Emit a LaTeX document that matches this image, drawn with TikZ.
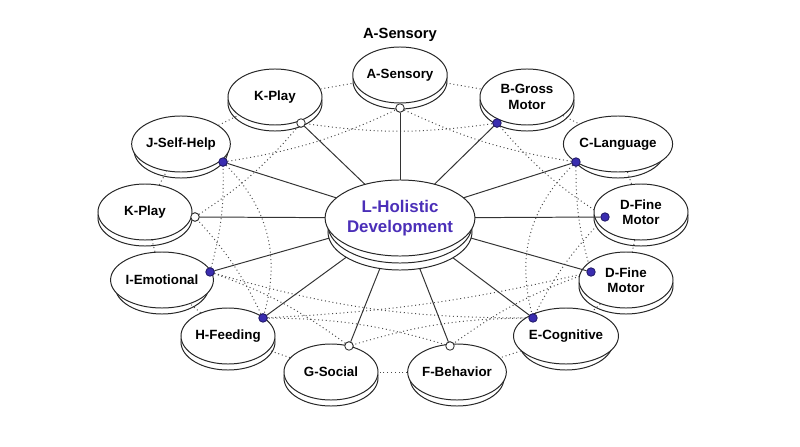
\documentclass[tikz,border=0pt]{standalone}
\usepackage{fontspec}
\setmainfont{Liberation Sans}
\usetikzlibrary{shapes.geometric}
\definecolor{violet}{HTML}{4B2FB8}
\definecolor{dotblue}{HTML}{3A2DB0}
\tikzset{
  base/.style={ellipse, draw=black!85, line width=0.7pt, fill=white, minimum width=2.35cm, minimum height=1.4cm, inner sep=0pt},
  disk/.style={base, font=\fontsize{9.5}{11}\selectfont\bfseries, align=center},
  hub/.style={disk, minimum width=3.6cm, minimum height=1.9cm, text=violet, font=\fontsize{12}{14}\selectfont\bfseries},
  spoke/.style={draw=black!80, line width=0.7pt},
  link/.style={draw=black!70, dotted, line width=0.7pt},
  pin/.style={circle, draw=black!80, line width=0.6pt, fill=white, inner sep=0pt, minimum size=6pt},
  bpin/.style={pin, fill=dotblue, draw=dotblue!60!black},
}
% a disc: base ellipse, then top ellipse with text
\newcommand{\disc}[4][disk]{%
  \node[#1, text opacity=0] at ([yshift=-0.15cm]#3) {};
  \node[#1] (#2) at (#3) {#4};}
\begin{document}
\begin{tikzpicture}[x=0.025cm, y=-0.025cm]
  \useasboundingbox (0,0) rectangle (800,446);
  \node[font=\fontsize{10.5}{12}\selectfont\bfseries] (title) at (400,35) {A-Sensory};

  % pins
  \node[pin]  (pA) at (400,108) {};
  \node[bpin] (pB) at (497,123) {};
  \node[bpin] (pC) at (576,162) {};
  \node[bpin] (pD) at (605,217) {};
  \node[bpin] (pDD) at (591,272) {};
  \node[bpin] (pE) at (533,318) {};
  \node[pin]  (pF) at (450,346) {};
  \node[pin]  (pG) at (349,346) {};
  \node[bpin] (pH) at (263,318) {};
  \node[bpin] (pI) at (210,272) {};
  \node[pin]  (pK) at (195,217) {};
  \node[bpin] (pJ) at (223,162) {};
  \node[pin]  (pKK) at (301,123) {};

  % dotted chords
  \foreach \a/\b in {pA/pC, pB/pD, pC/pDD, pD/pE, pDD/pF, pE/pG,
                     pF/pH, pG/pI, pH/pK, pI/pJ, pK/pKK, pJ/pA, pKK/pB}
    \path[link] (\a) to[bend right=8] (\b);
  \path[link] (pJ) to[bend left=30] (pH);
  \path[link] (pC) to[bend right=30] (pE);
  \path[link] (pI) to[bend right=8] (pE);
  \path[link] (pH) to[bend right=5] (pDD);

  % outer discs
  \disc{A}{400,75}{A-Sensory}
  \disc{B}{527,97}{B-Gross\\Motor}
  \disc{C}{618,144}{C-Language}
  \disc{D}{641,212}{D-Fine\\Motor}
  \disc{DD}{626,280}{D-Fine\\Motor}
  \disc{E}{566,336}{E-Cognitive}
  \disc{F}{457,372}{F-Behavior}
  \disc{G}{331,372}{G-Social}
  \disc{H}{228,336}{H-Feeding}
  \disc{I}{162,280}{I-Emotional}
  \disc{K}{145,212}{K-Play}
  \disc{J}{181,144}{J-Self-Help}
  \disc{KK}{275,97}{K-Play}

  % ring
  \foreach \a/\b in {A/B, B/C, C/D, D/DD, DD/E, E/F, F/G, G/H, H/I, I/K, K/J, J/KK, KK/A}
    \path[link] (\a) -- (\b);

  % spokes
  \foreach \p in {pA, pB, pC, pD, pDD, pE, pF, pG, pH, pI, pK, pJ, pKK}
    \path[spoke] (400,218) -- (\p);

  % hub
  \node[hub, text opacity=0] at (400,232) {};
  \node[hub, text opacity=0] at (400,225) {};
  \node[hub] (L) at (400,218) {L-Holistic\\Development};

  % pins on top
  \foreach \p in {pA, pF, pG, pK, pKK}
    \node[pin] at (\p) {};
  \foreach \p in {pB, pC, pD, pDD, pE, pH, pI, pJ}
    \node[bpin] at (\p) {};
\end{tikzpicture}
\end{document}
